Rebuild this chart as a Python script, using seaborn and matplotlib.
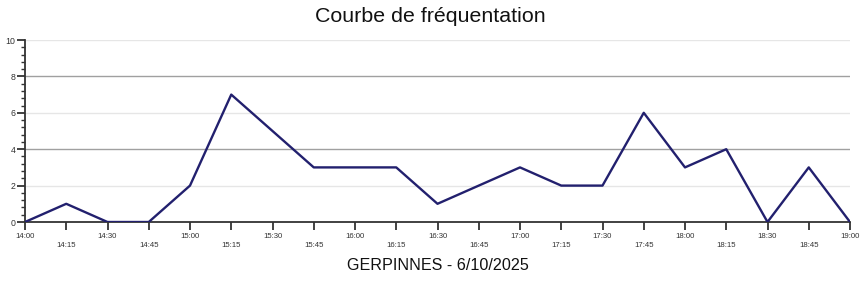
import matplotlib
matplotlib.use("Agg")
import matplotlib.pyplot as plt
import seaborn as sns
import pandas as pd
import numpy as np

times = ["14:00", "14:15", "14:30", "14:45", "15:00", "15:15", "15:30", "15:45",
         "16:00", "16:15", "16:30", "16:45", "17:00", "17:15", "17:30", "17:45",
         "18:00", "18:15", "18:30", "18:45", "19:00"]
visitors = [0, 1, 0, 0, 2, 7, 5, 3, 3, 3, 1, 2, 3, 2, 2, 6, 3, 4, 0, 3, 0]
title = "Courbe de fréquentation"
xlabel = "GERPINNES - 6/10/2025"
y_major = [0, 2, 4, 6, 8, 10]

sns.set_theme(style="white")
plt.rcParams['font.family'] = ['Liberation Sans', 'DejaVu Sans']

minutes = [int(t.split(":")[0]) * 60 + int(t.split(":")[1]) for t in times]
df = pd.DataFrame({"minute": minutes, "visitors": visitors})

fig = plt.figure(figsize=(8.6, 2.84), dpi=100)
ax = fig.add_axes([25 / 860, 62 / 284, 825 / 860, 182 / 284])

# gridlines
for yv in y_major[1:]:
    col = "#a0a0a0" if yv % 4 == 0 else "#e6e6e6"
    ax.axhline(yv, color=col, lw=1.0, zorder=0)

sns.lineplot(data=df, x="minute", y="visitors", ax=ax, color="#22206e",
             lw=1.7, zorder=3)

ax.set_xlim(minutes[0], minutes[-1])
ax.set_ylim(0, 10)
ax.set_xticks(minutes)
ax.set_xticklabels([t if i % 2 == 0 else "\n" + t for i, t in enumerate(times)],
                   fontsize=5.6, color="#333333", linespacing=1.3)
ax.set_yticks(y_major)
ax.set_yticklabels([str(v) for v in y_major], fontsize=6.3, color="#333333")
ax.set_yticks(np.arange(0, 10.01, 0.4), minor=True)

ax.tick_params(axis="x", which="major", direction="out", length=6, width=1.3,
               color="#333333", pad=2, bottom=True)
ax.tick_params(axis="y", which="major", direction="out", length=6, width=1.3,
               color="#333333", pad=1, left=True)
ax.tick_params(axis="y", which="minor", direction="out", length=3, width=1.0,
               color="#333333", left=True)

for s in ["top", "right"]:
    ax.spines[s].set_visible(False)
for s in ["left", "bottom"]:
    ax.spines[s].set_color("#333333")
    ax.spines[s].set_linewidth(1.3)

ax.set_ylabel("")
ax.set_xlabel(xlabel, fontsize=11.6, color="#111111", labelpad=7)
fig.suptitle(title, fontsize=15.4, color="#111111", y=0.975, x=0.5)

fig.savefig("out.png", dpi=100)
